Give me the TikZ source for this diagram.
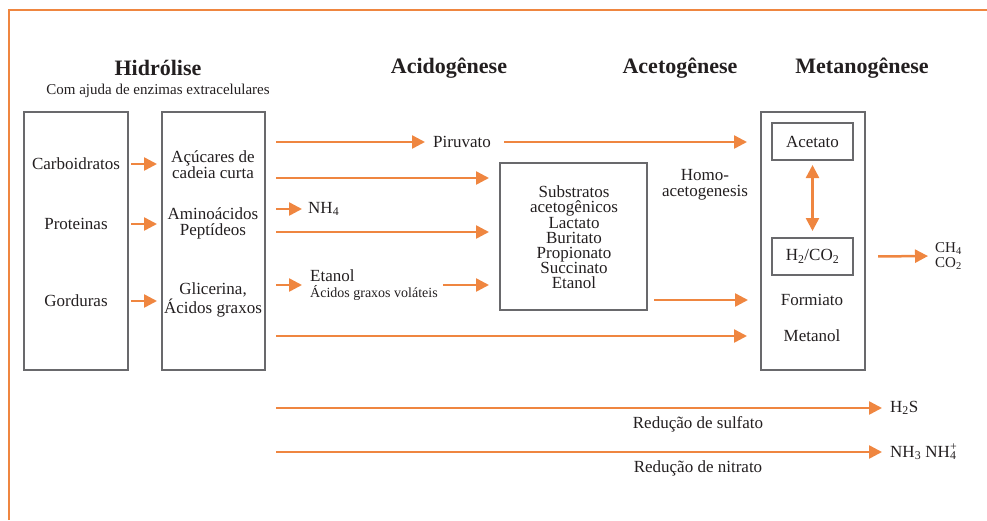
\documentclass[tikz,border=0pt]{standalone}
\usepackage{fontspec}
\setmainfont{Liberation Serif}
\usetikzlibrary{arrows.meta}

\definecolor{laranja}{RGB}{239,134,64}
\definecolor{cinza}{RGB}{105,105,108}
\definecolor{tinta}{RGB}{35,31,32}

\tikzset{
	rot/.style={text=tinta, font=\fontsize{17}{16}\selectfont, align=center, inner sep=0pt},
	titulo/.style={text=tinta, font=\fontsize{22}{24}\selectfont\bfseries, inner sep=0pt},
	caixa/.style={draw=cinza, line width=2pt, inner sep=0pt},
	seta/.style={draw=laranja, line width=2.5pt, -{Triangle[length=13pt,width=13pt]}},
	dupla/.style={draw=laranja, line width=2.5pt, {Triangle[length=13pt,width=13pt]}-{Triangle[length=13pt,width=13pt]}},
}

\begin{document}
\begin{tikzpicture}[x=1pt,y=-1pt]
	\useasboundingbox (0,0) rectangle (987,520);
%	moldura
	\draw[laranja, line width=2pt] (9,520) -- (9,10) -- (987,10);

%	titulos das fases
	\node[titulo] (hidro)  at (158,68) {Hidrólise};
	\node[rot, font=\fontsize{15}{16}\selectfont] (enzimas) at (158,91) {Com ajuda de enzimas extracelulares};
	\node[titulo] (acido)  at (449,68) {Acidogênese};
	\node[titulo] (aceto)  at (680,68) {Acetogênese};
	\node[titulo] (metano) at (862,68) {Metanogênese};

%	caixas
	\node[caixa, minimum width=104pt, minimum height=258pt] (polim)  at (76,241)      {};
	\node[caixa, minimum width=103pt, minimum height=258pt] (monom)  at (213.5,241)   {};
	\node[caixa, minimum width=147pt, minimum height=147pt] (substr) at (573.5,236.5) {};
	\node[caixa, minimum width=104pt, minimum height=258pt] (metan)  at (813,241)     {};
	\node[caixa, rot, minimum width=81pt, minimum height=37pt] (acetato) at (812.5,141.5) {Acetato};
	\node[caixa, rot, minimum width=81pt, minimum height=37pt] (hco)     at (812.5,256.5) {H\textsubscript{2}/CO\textsubscript{2}};

%	textos
	\node[rot] (carb) at (76,164) {Carboidratos};
	\node[rot] (prot) at (76,224) {Proteinas};
	\node[rot] (gord) at (76,301) {Gorduras};
	\node[rot] (acucar) at (213,165) {Açúcares de\\cadeia curta};
	\node[rot] (amino)  at (213,223) {Aminoácidos\\Peptídeos};
	\node[rot] (glic)   at (213,300) {Glicerina,\\Ácidos graxos};
	\node[rot, font=\fontsize{17}{15.2}\selectfont] (lista) at (574,237.5) {Substratos\\acetogênicos\\Lactato\\Buritato\\Propionato\\Succinato\\Etanol};
	\node[rot] (piru) at (462,142) {Piruvato};
	\node[rot, anchor=west] (nh) at (308,209) {NH\textsubscript{4}};
	\node[rot, anchor=west, align=left] (etanol) at (310,285) {Etanol\\{\fontsize{14}{14}\selectfont Ácidos graxos voláteis}};
	\node[rot] (homo) at (705,185) {Homo-\\acetogenesis};
	\node[rot] (form) at (812,300) {Formiato};
	\node[rot] (metanol) at (812,336) {Metanol};
	\node[rot, anchor=west, align=left, font=\fontsize{15}{15}\selectfont] (gas) at (935,256) {CH\textsubscript{4}\\CO\textsubscript{2}};
	\node[rot, anchor=west] (hs) at (890,408) {H\textsubscript{2}S};
	\node[rot, anchor=west] (nitro) at (890,452) {NH\textsubscript{3} NH\rlap{\textsuperscript{+}}\textsubscript{4}};
	\node[rot] (sulf) at (698,424) {Redução de sulfato};
	\node[rot] (nitr) at (698,468) {Redução de nitrato};

%	linhas sem rotulo
	\coordinate (r1) at (0,178);
	\coordinate (r2) at (0,232);

%	setas
	\foreach \n in {carb,prot,gord}
		\draw[seta, shorten <=2pt, shorten >=4pt] (polim.east |- \n) -- (monom.west |- \n);
	\draw[seta, shorten <=10pt, shorten >=8pt] (monom.east |- piru) -- (piru.west);
	\draw[seta, shorten <=13pt, shorten >=13pt] (piru.east) -- (metan.west |- piru);
	\draw[seta, shorten <=10pt, shorten >=10pt] (monom.east |- r1) -- (substr.west |- r1);
	\draw[seta, shorten <=10pt, shorten >=6pt] (monom.east |- nh) -- (nh.west);
	\draw[seta, shorten <=10pt, shorten >=10pt] (monom.east |- r2) -- (substr.west |- r2);
	\draw[seta, shorten <=10pt, shorten >=8pt] (monom.east |- etanol) -- (etanol.west);
	\draw[seta, shorten <=5pt, shorten >=10pt] (etanol.east) -- (substr.west |- etanol);
	\draw[seta, shorten <=10pt, shorten >=13pt] (monom.east |- metanol) -- (metan.west |- metanol);
	\draw[seta, shorten <=6pt, shorten >=12pt] (substr.east |- form) -- (metan.west |- form);
	\draw[dupla, shorten <=4pt, shorten >=6pt] (acetato.south) -- (hco.north);
	\draw[seta, shorten <=12pt, shorten >=7pt] (metan.east |- hco) -- (gas.west);
	\draw[seta, shorten <=10pt, shorten >=8pt] (monom.east |- hs) -- (hs.west);
	\draw[seta, shorten <=10pt, shorten >=8pt] (monom.east |- nitro) -- (nitro.west);
\end{tikzpicture}
\end{document}
